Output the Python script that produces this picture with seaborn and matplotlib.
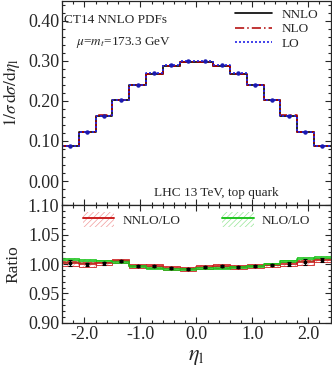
import numpy as np
import matplotlib
matplotlib.use('Agg')
import matplotlib.pyplot as plt
import seaborn as sns
from matplotlib.lines import Line2D
from matplotlib.patches import Patch
from matplotlib.ticker import MultipleLocator, FormatStrFormatter

# bins in lepton pseudorapidity
eta_edges = [-2.4, -2.1, -1.8, -1.5, -1.2, -0.9, -0.6, -0.3, 0.0,
             0.3, 0.6, 0.9, 1.2, 1.5, 1.8, 2.1, 2.4]
eta_centers = [-2.25, -1.95, -1.65, -1.35, -1.05, -0.75, -0.45, -0.15,
               0.15, 0.45, 0.75, 1.05, 1.35, 1.65, 1.95, 2.25]

# normalized distributions
lo = [0.0865, 0.1225, 0.1635, 0.2025, 0.2405, 0.2695, 0.2895, 0.2995,
      0.2995, 0.2895, 0.2695, 0.2405, 0.2025, 0.1635, 0.1225, 0.0865]
nlo = [0.0871, 0.1231, 0.1643, 0.2033, 0.2398, 0.2679, 0.2870, 0.2968,
       0.2974, 0.2878, 0.2680, 0.2398, 0.2025, 0.1643, 0.1235, 0.0875]
nnlo = [0.0866, 0.1224, 0.1637, 0.2036, 0.2398, 0.2686, 0.2875, 0.2970,
        0.2979, 0.2886, 0.2680, 0.2398, 0.2021, 0.1635, 0.1229, 0.0871]
lo_err = [0.002, 0.002, 0.002, 0.002, 0.002, 0.002, 0.002, 0.002,
          0.002, 0.002, 0.002, 0.002, 0.002, 0.002, 0.002, 0.002]

# ratios to LO
r_nnlo = [1.001, 0.9995, 1.001, 1.0055, 0.997, 0.9965, 0.993, 0.9915,
          0.9945, 0.997, 0.9945, 0.997, 0.998, 1.000, 1.003, 1.007]
r_nnlo_band = [0.004, 0.004, 0.003, 0.003, 0.003, 0.003, 0.003, 0.003,
               0.003, 0.003, 0.003, 0.003, 0.003, 0.003, 0.004, 0.004]
r_nnlo_err = [0.005, 0.003, 0.003, 0.002, 0.002, 0.002, 0.002, 0.002,
              0.002, 0.002, 0.002, 0.002, 0.002, 0.003, 0.005, 0.004]
r_nlo = [1.0068, 1.005, 1.005, 1.004, 0.997, 0.994, 0.9915, 0.991,
         0.993, 0.994, 0.9945, 0.997, 1.000, 1.005, 1.0085, 1.011]
r_nlo_band = [0.003, 0.003, 0.002, 0.002, 0.002, 0.002, 0.002, 0.002,
              0.002, 0.002, 0.002, 0.002, 0.002, 0.002, 0.003, 0.003]

sns.set_theme(style='ticks')
plt.rcParams['font.family'] = ['Liberation Serif', 'DejaVu Serif']
plt.rcParams['mathtext.fontset'] = 'stix'
plt.rcParams['hatch.linewidth'] = 0.5
plt.rcParams['axes.linewidth'] = 0.9

red = '#cc1f1f'
red_light = '#f29a9a'
green = '#1fc41f'
green_light = '#96e696'

fig = plt.figure(figsize=(3.32, 3.69), dpi=100)
ax1 = fig.add_axes([0.187, 0.4444, 0.809, 0.553])
ax2 = fig.add_axes([0.187, 0.1247, 0.809, 0.3197], sharex=ax1)

# upper panel: step histograms
sns.histplot(x=eta_centers, weights=nnlo, bins=eta_edges, element='step',
             fill=False, color='black', linewidth=1.2, ax=ax1)
sns.histplot(x=eta_centers, weights=nlo, bins=eta_edges, element='step',
             fill=False, color='#b00000', linewidth=1.1, linestyle=(0, (6, 2, 1, 2)), ax=ax1)
sns.histplot(x=eta_centers, weights=lo, bins=eta_edges, element='step',
             fill=False, color='#2323e6', linewidth=1.2, linestyle=(0, (1.2, 1.2)), ax=ax1)
ax1.errorbar(eta_centers, lo, yerr=lo_err, fmt='o', ms=2.2, color='#1a1ab0',
             elinewidth=0.7, capsize=0)

ax1.set_xlim(-2.4, 2.4)
ax1.set_ylim(-0.06, 0.45)
ax1.yaxis.set_major_locator(MultipleLocator(0.1))
ax1.yaxis.set_minor_locator(MultipleLocator(0.02))
ax1.yaxis.set_major_formatter(FormatStrFormatter('%.2f'))
ax1.set_ylabel(r'$1/\sigma\,\mathrm{d}\sigma/\mathrm{d}\eta_{\mathrm{l}}$', fontsize=12.5)
ax1.yaxis.set_label_coords(-0.15, 0.55)
ax1.set_xlabel('')

ax1.text(0.008, 0.905, 'CT14 NNLO PDFs', transform=ax1.transAxes,
         fontsize=9.5, va='center', ha='left')
ax1.text(0.23, 0.795, r'$\mu$=$m_t$=173.3 GeV', transform=ax1.transAxes,
         fontsize=9.5, va='center', ha='center')
ax1.text(0.573, 0.058, 'LHC 13 TeV, top quark', transform=ax1.transAxes,
         fontsize=9.5, va='center', ha='center')

leg1_handles = [
    Line2D([], [], color='black', lw=1.2),
    Line2D([], [], color='#b00000', lw=1.1, linestyle=(0, (6, 2, 1, 2))),
    Line2D([], [], color='#2323e6', lw=1.2, linestyle=(0, (1.2, 1.2))),
]
ax1.legend(leg1_handles, ['NNLO', 'NLO', 'LO'], loc='upper right', frameon=False,
           fontsize=9.5, handlelength=2.8, labelspacing=0.15,
           borderaxespad=0.2, bbox_to_anchor=(0.985, 1.0))

# lower panel: ratios with hatched bands
widths = [b - a for a, b in zip(eta_edges[:-1], eta_edges[1:])]
for vals, band, col, light in [(r_nnlo, r_nnlo_band, red, red_light),
                               (r_nlo, r_nlo_band, green, green_light)]:
    lows = [v - b for v, b in zip(vals, band)]
    heights = [2 * b for b in band]
    ax2.bar(eta_centers, heights, bottom=lows, width=widths, fill=False,
            hatch='//////', edgecolor=light, linewidth=0)
    ax2.bar(eta_centers, heights, bottom=lows, width=widths, fill=False,
            edgecolor=col, linewidth=0.6)
    sns.histplot(x=eta_centers, weights=vals, bins=eta_edges, element='step',
                 fill=False, color=col, linewidth=1.2, ax=ax2)

ax2.errorbar(eta_centers, r_nnlo, yerr=r_nnlo_err, fmt='o', ms=1.8, color='black',
             elinewidth=0.8, capsize=1.5, capthick=0.8)

ax2.set_ylim(0.9, 1.1)
ax2.set_xlim(-2.4, 2.4)
ax2.yaxis.set_major_locator(MultipleLocator(0.05))
ax2.yaxis.set_minor_locator(MultipleLocator(0.01))
ax2.yaxis.set_major_formatter(FormatStrFormatter('%.2f'))
ax2.xaxis.set_major_locator(MultipleLocator(1.0))
ax2.xaxis.set_minor_locator(MultipleLocator(0.2))
ax2.xaxis.set_major_formatter(FormatStrFormatter('%.1f'))
ax2.set_ylabel('Ratio', fontsize=12.5)
ax2.yaxis.set_label_coords(-0.15, 0.5)
ax2.set_xlabel(r'$\eta_{\mathrm{l}}$', fontsize=16)
ax2.xaxis.set_label_coords(0.5, -0.21)

leg2_handles = [
    (Patch(facecolor='none', edgecolor=red_light, hatch='//////', lw=0),
     Line2D([], [], color=red, lw=1.4)),
    (Patch(facecolor='none', edgecolor=green_light, hatch='//////', lw=0),
     Line2D([], [], color=green, lw=1.4)),
]
ax2.legend(leg2_handles, ['NNLO/LO', 'NLO/LO'], loc='upper center', ncol=2,
           frameon=False, fontsize=9.5, handlelength=2.4, handleheight=1.3,
           columnspacing=3.2, handletextpad=0.6, borderaxespad=0.15,
           bbox_to_anchor=(0.5, 1.0))

for ax in (ax1, ax2):
    ax.tick_params(which='both', direction='in', top=True, right=True,
                   labelsize=13, pad=2, width=0.8)
    ax.tick_params(which='major', length=4)
    ax.tick_params(which='minor', length=2)
ax1.tick_params(labelbottom=False)

fig.savefig('out.png', dpi=100)
